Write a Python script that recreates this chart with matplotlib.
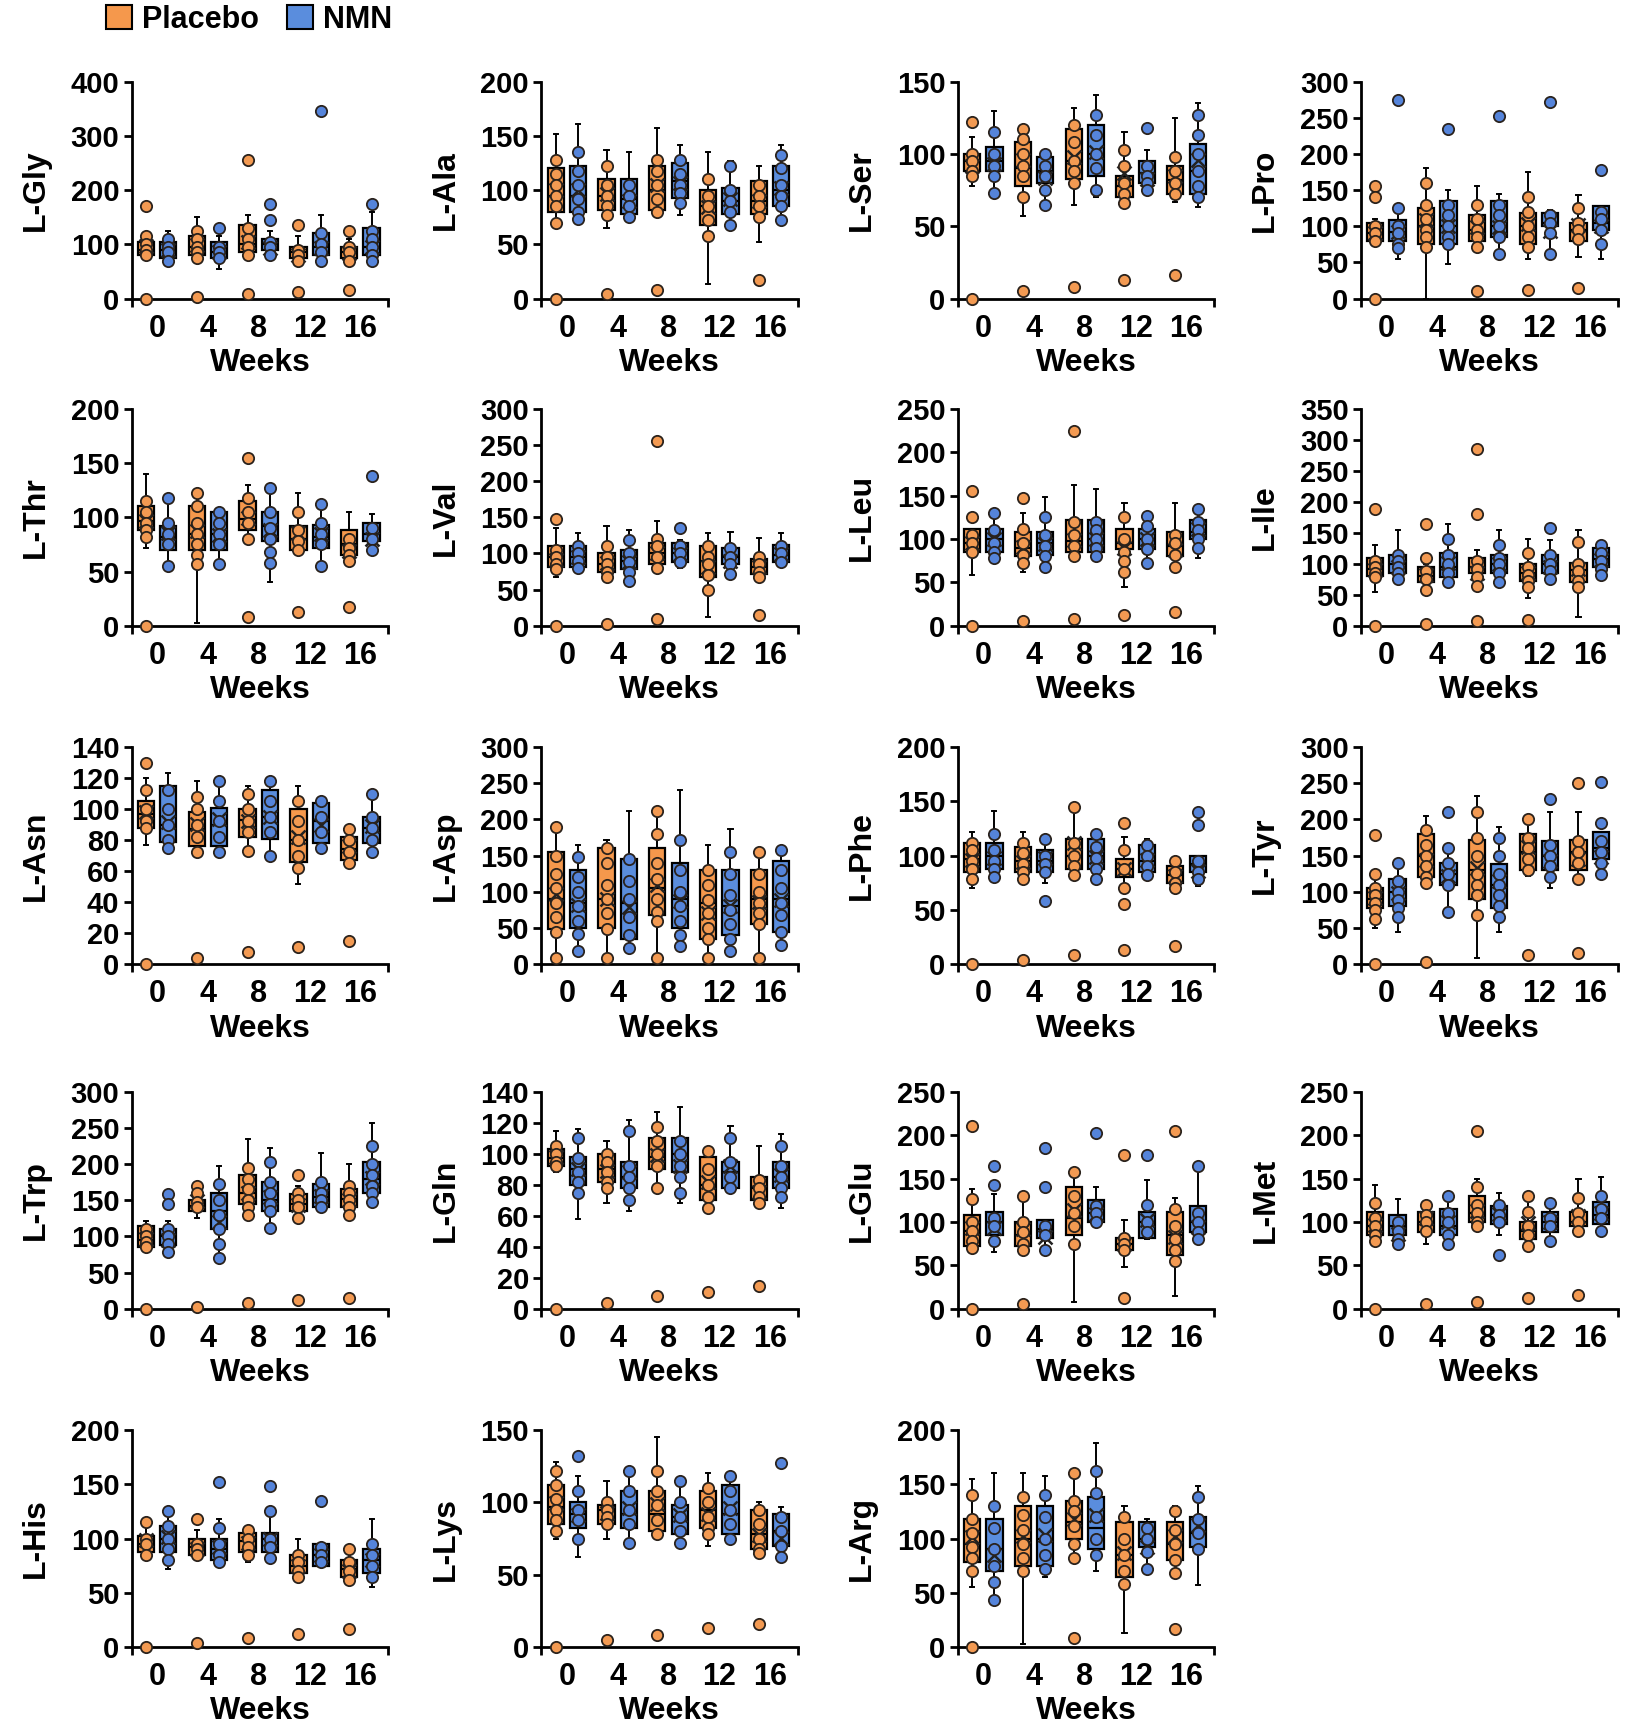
import numpy as np
import matplotlib
matplotlib.use("Agg")
import matplotlib.pyplot as plt
from matplotlib.patches import Patch
from matplotlib import font_manager

names_avail = {f.name for f in font_manager.fontManager.ttflist}
FAM = [f for f in ["Liberation Sans Narrow", "Liberation Sans", "DejaVu Sans"] if f in names_avail]
plt.rcParams['font.family'] = FAM
plt.rcParams['font.weight'] = 'bold'

WEEKS = ["0", "4", "8", "12", "16"]
GROUPS = ["Placebo", "NMN"]

# each box row: [whisker low, q1, median, q3, whisker high]
GLY_PL_BOX = [[75, 80, 90, 105, 115], [70, 80, 95, 115, 150], [75, 85, 100, 135, 155], [70, 75, 85, 95, 115], [65, 75, 85, 95, 110]]
GLY_NM_BOX = [[65, 75, 90, 105, 125], [55, 75, 85, 105, 115], [80, 90, 100, 110, 125], [65, 80, 95, 120, 155], [70, 80, 95, 130, 160]]
GLY_PL_PTS = [[170, 115, 100, 90, 80, 0], [125, 110, 95, 85, 75, 3], [255, 130, 110, 95, 80, 8], [135, 90, 80, 70, 12], [125, 95, 85, 70, 16]]
GLY_NM_PTS = [[110, 95, 85, 70], [130, 95, 85, 75], [175, 145, 105, 95, 80], [345, 120, 100, 85, 70], [175, 125, 110, 95, 80, 70]]

ALA_PL_BOX = [[70, 80, 95, 120, 152], [65, 82, 95, 110, 137], [75, 82, 100, 122, 157], [13, 68, 85, 100, 135], [52, 78, 90, 108, 122]]
ALA_NM_BOX = [[70, 80, 95, 122, 161], [72, 78, 92, 110, 135], [77, 93, 108, 125, 142], [65, 78, 90, 102, 127], [70, 85, 100, 122, 142]]
ALA_PL_PTS = [[128, 115, 105, 95, 85, 70, 0], [122, 105, 95, 85, 77, 4], [128, 118, 105, 92, 80, 8], [110, 95, 85, 72, 58], [105, 95, 85, 75, 17]]
ALA_NM_PTS = [[135, 118, 105, 92, 80, 73], [105, 95, 85, 75], [128, 115, 105, 97, 88], [122, 100, 90, 80, 68], [132, 120, 105, 95, 85, 72]]

SER_PL_BOX = [[78, 88, 95, 100, 112], [57, 78, 90, 108, 120], [65, 83, 95, 117, 132], [68, 70, 78, 85, 115], [67, 72, 82, 92, 125]]
SER_NM_BOX = [[72, 88, 95, 105, 130], [65, 80, 88, 98, 103], [70, 85, 100, 120, 141], [75, 80, 87, 95, 103], [63, 72, 88, 107, 135]]
SER_PL_PTS = [[122, 100, 95, 88, 85, 0], [117, 110, 100, 92, 85, 70, 5], [120, 108, 95, 88, 80, 8], [103, 92, 80, 72, 66, 13], [98, 88, 80, 72, 16]]
SER_NM_PTS = [[115, 100, 92, 85, 73], [100, 92, 85, 75, 65], [127, 113, 100, 90, 75], [118, 92, 85, 80, 75], [127, 113, 100, 88, 78, 70]]

PRO_PL_BOX = [[75, 80, 90, 105, 110], [0, 75, 100, 125, 180], [70, 80, 95, 115, 155], [55, 75, 100, 118, 175], [58, 80, 95, 105, 143]]
PRO_NM_BOX = [[55, 80, 92, 108, 125], [48, 75, 100, 135, 150], [55, 85, 100, 135, 145], [60, 100, 105, 118, 122], [55, 95, 105, 128, 128]]
PRO_PL_PTS = [[155, 140, 100, 90, 80, 0], [160, 130, 110, 95, 85, 72], [130, 110, 95, 85, 72, 10], [140, 120, 100, 85, 72, 12], [125, 105, 95, 82, 15]]
PRO_NM_PTS = [[275, 125, 100, 90, 75, 70], [235, 130, 115, 100, 85, 75], [252, 130, 115, 100, 85, 62], [272, 115, 105, 90, 62], [178, 120, 110, 95, 75]]

THR_PL_BOX = [[72, 88, 97, 110, 140], [3, 70, 85, 110, 122], [75, 88, 98, 115, 130], [65, 70, 80, 92, 122], [58, 65, 75, 88, 105]]
THR_NM_BOX = [[53, 70, 82, 92, 118], [55, 70, 85, 105, 108], [40, 78, 92, 105, 127], [55, 72, 82, 93, 112], [65, 78, 85, 95, 103]]
THR_PL_PTS = [[115, 105, 95, 88, 82, 0], [122, 110, 95, 85, 75, 65, 57], [155, 118, 105, 95, 80, 8], [105, 88, 78, 70, 13], [80, 72, 65, 60, 17]]
THR_NM_PTS = [[118, 95, 85, 75, 55], [105, 95, 85, 75, 57], [127, 105, 90, 80, 68, 58], [112, 95, 85, 75, 55], [138, 90, 80, 70]]

VAL_PL_BOX = [[68, 82, 95, 110, 135], [65, 75, 85, 100, 138], [75, 85, 100, 115, 145], [12, 68, 90, 110, 128], [65, 72, 82, 92, 122]]
VAL_NM_BOX = [[75, 82, 95, 110, 128], [60, 78, 90, 105, 132], [80, 88, 100, 115, 118], [70, 85, 95, 108, 130], [82, 88, 98, 112, 128]]
VAL_PL_PTS = [[148, 105, 95, 85, 78, 0], [110, 95, 85, 75, 68, 3], [255, 120, 110, 95, 80, 10], [110, 95, 85, 70, 50], [95, 85, 75, 68, 15]]
VAL_NM_PTS = [[110, 100, 90, 80], [118, 100, 88, 75, 62], [135, 110, 100, 88], [108, 95, 85, 72], [110, 100, 88]]

LEU_PL_BOX = [[58, 85, 95, 112, 112], [62, 80, 90, 108, 130], [75, 85, 98, 122, 162], [45, 88, 95, 112, 142], [65, 80, 92, 108, 142]]
LEU_NM_BOX = [[75, 85, 100, 112, 130], [62, 82, 95, 108, 148], [75, 85, 100, 122, 158], [72, 88, 100, 112, 128], [78, 100, 108, 122, 135]]
LEU_PL_PTS = [[155, 125, 105, 95, 85, 0], [147, 112, 95, 82, 72, 5], [225, 120, 105, 92, 80, 8], [125, 100, 85, 75, 62, 13], [105, 95, 82, 68, 16]]
LEU_NM_PTS = [[130, 110, 95, 85, 78], [125, 105, 92, 80, 68], [120, 110, 100, 90, 80], [127, 115, 100, 88, 72], [135, 120, 110, 100, 90]]

ILE_PL_BOX = [[55, 80, 92, 110, 130], [60, 70, 80, 95, 100], [65, 85, 95, 110, 122], [45, 72, 85, 100, 140], [15, 70, 90, 102, 155]]
ILE_NM_BOX = [[72, 85, 100, 115, 155], [62, 78, 95, 118, 165], [65, 85, 100, 115, 155], [70, 85, 100, 115, 138], [80, 95, 108, 125, 130]]
ILE_PL_PTS = [[188, 105, 95, 85, 78, 0], [165, 110, 88, 75, 58, 3], [285, 180, 105, 92, 78, 65, 7], [118, 95, 82, 72, 62, 10], [135, 100, 88, 72, 62]]
ILE_NM_PTS = [[115, 105, 95, 85, 75], [140, 115, 100, 85, 70], [130, 110, 100, 85, 70], [158, 115, 100, 88, 75], [130, 118, 105, 92, 82]]

ASN_PL_BOX = [[77, 88, 97, 105, 120], [70, 76, 87, 98, 118], [72, 82, 93, 100, 115], [52, 66, 80, 100, 115], [62, 67, 74, 82, 90]]
ASN_NM_BOX = [[72, 79, 90, 115, 123], [70, 76, 90, 101, 118], [68, 81, 95, 112, 120], [72, 78, 92, 104, 107], [72, 78, 88, 95, 110]]
ASN_PL_PTS = [[130, 112, 100, 92, 88, 0], [108, 100, 90, 82, 72, 4], [110, 100, 92, 85, 73, 8], [105, 92, 80, 70, 62, 11], [87, 80, 72, 65, 15]]
ASN_NM_PTS = [[112, 100, 90, 80, 75], [118, 105, 92, 82, 72], [118, 105, 95, 85, 70], [105, 95, 85, 75], [110, 95, 88, 80, 72]]

ASP_PL_BOX = [[8, 48, 90, 155, 190], [8, 50, 90, 160, 172], [8, 68, 105, 160, 212], [8, 35, 85, 130, 165], [8, 55, 90, 130, 160]]
ASP_NM_BOX = [[18, 50, 85, 130, 165], [20, 35, 85, 145, 212], [25, 50, 90, 140, 240], [18, 40, 80, 130, 187], [25, 45, 90, 142, 160]]
ASP_PL_PTS = [[190, 150, 125, 105, 85, 65, 45, 8], [160, 140, 110, 90, 70, 48, 8], [212, 180, 140, 118, 90, 72, 60, 8], [130, 110, 88, 70, 50, 35, 8], [155, 125, 100, 85, 70, 55, 8]]
ASP_NM_PTS = [[148, 120, 100, 80, 60, 42, 18], [145, 115, 90, 65, 40, 22], [172, 130, 100, 80, 60, 40, 25], [155, 125, 95, 75, 55, 35, 18], [158, 130, 105, 85, 68, 45, 27]]

PHE_PL_BOX = [[70, 85, 97, 112, 122], [75, 85, 95, 108, 122], [85, 88, 100, 115, 145], [70, 80, 88, 97, 117], [70, 75, 82, 90, 98]]
PHE_NM_BOX = [[80, 88, 100, 112, 141], [75, 85, 95, 105, 115], [78, 88, 100, 115, 120], [80, 85, 95, 110, 115], [72, 85, 92, 100, 100]]
PHE_PL_PTS = [[112, 105, 95, 88, 78, 0], [112, 102, 92, 85, 78, 4], [145, 112, 100, 90, 82, 8], [130, 105, 88, 70, 55, 13], [95, 85, 75, 70, 17]]
PHE_NM_PTS = [[120, 105, 95, 88, 80], [115, 100, 92, 85, 58], [120, 108, 98, 88, 78], [110, 100, 90, 82], [140, 128, 95, 85, 78]]

TYR_PL_BOX = [[50, 78, 90, 105, 125], [110, 120, 150, 180, 205], [8, 90, 130, 172, 232], [122, 130, 155, 180, 200], [118, 130, 155, 172, 210]]
TYR_NM_BOX = [[45, 80, 100, 118, 140], [72, 110, 125, 140, 162], [45, 78, 110, 138, 190], [105, 130, 150, 170, 210], [125, 145, 160, 182, 182]]
TYR_PL_PTS = [[178, 125, 105, 95, 85, 75, 62, 0], [185, 165, 150, 135, 120, 112, 3], [210, 175, 150, 125, 110, 95, 68], [200, 175, 160, 145, 130, 12], [250, 170, 155, 140, 118, 16]]
TYR_NM_PTS = [[140, 115, 100, 88, 78, 65], [210, 160, 140, 125, 110, 72], [175, 150, 125, 110, 95, 80, 65], [228, 165, 150, 135, 120], [252, 195, 170, 155, 140, 125]]

TRP_PL_BOX = [[78, 85, 95, 115, 122], [125, 135, 142, 150, 168], [130, 145, 160, 185, 235], [125, 135, 145, 158, 170], [130, 140, 152, 165, 200]]
TRP_NM_BOX = [[75, 88, 100, 110, 122], [70, 110, 135, 160, 197], [110, 135, 150, 175, 222], [135, 140, 155, 172, 215], [145, 160, 180, 203, 257]]
TRP_PL_PTS = [[110, 100, 92, 85, 0], [170, 160, 148, 140, 3], [195, 180, 165, 150, 140, 130, 8], [185, 160, 150, 140, 125, 12], [170, 160, 150, 140, 130, 15]]
TRP_NM_PTS = [[158, 145, 110, 100, 90, 78], [172, 150, 130, 110, 90, 70], [203, 175, 160, 145, 135, 112], [175, 160, 150, 140], [225, 200, 185, 170, 160, 148]]

GLN_PL_BOX = [[88, 92, 97, 103, 115], [68, 82, 90, 100, 108], [78, 90, 98, 110, 127], [65, 70, 80, 98, 102], [65, 70, 78, 85, 105]]
GLN_NM_BOX = [[58, 80, 90, 98, 116], [63, 78, 85, 95, 122], [68, 88, 100, 110, 130], [75, 78, 88, 95, 118], [65, 78, 85, 95, 113]]
GLN_PL_PTS = [[105, 100, 95, 92, 0], [100, 95, 88, 82, 78, 4], [117, 108, 100, 92, 78, 8], [102, 90, 80, 72, 65, 11], [83, 78, 72, 68, 15]]
GLN_NM_PTS = [[110, 97, 88, 82, 75], [115, 92, 85, 78, 70], [108, 100, 92, 85, 75], [110, 95, 85, 78], [105, 92, 85, 78, 72]]

GLU_PL_BOX = [[68, 72, 90, 108, 138], [65, 72, 85, 100, 135], [8, 85, 105, 140, 160], [48, 68, 75, 82, 102], [15, 62, 85, 112, 128]]
GLU_NM_BOX = [[65, 85, 100, 112, 132], [65, 82, 92, 102, 102], [95, 100, 110, 125, 140], [80, 82, 100, 112, 148], [80, 88, 100, 118, 160]]
GLU_PL_PTS = [[210, 127, 100, 90, 78, 70, 0], [130, 100, 88, 75, 68, 5], [158, 130, 110, 95, 75], [177, 82, 75, 68, 12], [205, 115, 95, 80, 68, 55]]
GLU_NM_PTS = [[165, 142, 105, 95, 78], [185, 140, 95, 85, 68], [203, 118, 110, 100], [177, 120, 100, 88], [165, 110, 100, 88, 80]]

MET_PL_BOX = [[75, 85, 95, 112, 142], [75, 88, 100, 112, 120], [92, 100, 110, 130, 150], [68, 80, 90, 100, 130], [88, 95, 100, 112, 150]]
MET_NM_BOX = [[72, 85, 95, 108, 126], [70, 85, 95, 115, 130], [85, 98, 108, 118, 133], [78, 88, 100, 112, 122], [90, 98, 108, 123, 152]]
MET_PL_PTS = [[122, 105, 95, 85, 78, 0], [120, 108, 100, 90, 5], [205, 140, 120, 110, 100, 95, 8], [130, 112, 95, 85, 72, 12], [128, 110, 100, 90, 16]]
MET_NM_PTS = [[100, 90, 80, 75], [130, 110, 100, 85, 75], [120, 108, 100, 62], [122, 105, 95, 78], [130, 115, 105, 90]]

HIS_PL_BOX = [[85, 88, 95, 102, 118], [85, 85, 92, 100, 108], [78, 88, 98, 105, 110], [65, 68, 75, 85, 100], [60, 65, 72, 80, 88]]
HIS_NM_BOX = [[72, 88, 100, 112, 125], [78, 80, 90, 100, 118], [82, 88, 100, 105, 125], [75, 75, 85, 95, 95], [55, 68, 80, 90, 118]]
HIS_PL_PTS = [[115, 100, 95, 85, 0], [118, 95, 90, 85, 4], [108, 100, 92, 85, 8], [85, 78, 70, 65, 12], [90, 78, 70, 62, 17]]
HIS_NM_PTS = [[125, 112, 100, 90, 80], [152, 110, 95, 85, 78], [148, 125, 100, 92, 82], [135, 92, 85, 78], [95, 85, 75, 65]]

LYS_PL_BOX = [[75, 85, 97, 112, 128], [75, 85, 95, 98, 115], [75, 80, 92, 108, 145], [70, 82, 95, 108, 120], [65, 68, 78, 95, 100]]
LYS_NM_BOX = [[62, 82, 92, 100, 118], [72, 82, 92, 108, 122], [72, 78, 90, 98, 115], [72, 78, 92, 112, 118], [60, 70, 80, 92, 97]]
LYS_PL_PTS = [[122, 112, 102, 95, 88, 80, 0], [100, 95, 90, 85, 5], [122, 108, 98, 88, 78, 8], [110, 100, 90, 82, 78, 13], [95, 85, 75, 68, 65, 16]]
LYS_NM_PTS = [[132, 108, 95, 88, 75], [122, 108, 95, 85, 72], [115, 100, 90, 80, 72], [118, 108, 95, 85, 75], [127, 90, 80, 70, 62]]

ARG_PL_BOX = [[55, 78, 95, 118, 155], [3, 75, 100, 130, 160], [80, 100, 115, 135, 160], [13, 65, 85, 115, 130], [78, 80, 95, 115, 130]]
ARG_NM_BOX = [[43, 70, 90, 118, 160], [65, 75, 100, 130, 158], [70, 90, 110, 138, 188], [70, 92, 100, 115, 118], [57, 92, 105, 120, 148]]
ARG_PL_PTS = [[140, 118, 105, 92, 82, 70, 0], [138, 122, 108, 95, 82, 70], [160, 135, 125, 112, 95, 82, 8], [120, 100, 85, 70, 58], [125, 108, 95, 80, 68, 17]]
ARG_NM_PTS = [[130, 110, 90, 75, 60, 43], [140, 120, 100, 85, 72], [162, 142, 120, 100, 85], [110, 100, 88, 72], [138, 118, 105, 90]]

LABELS = ["L-Gly", "L-Ala", "L-Ser", "L-Pro", "L-Thr", "L-Val", "L-Leu", "L-Ile",
          "L-Asn", "L-Asp", "L-Phe", "L-Tyr", "L-Trp", "L-Gln", "L-Glu", "L-Met",
          "L-His", "L-Lys", "L-Arg"]
YMAX = [400, 200, 150, 300, 200, 300, 250, 350, 140, 300, 200, 300, 300, 140, 250, 250, 200, 150, 200]
YSTEP = [100, 50, 50, 50, 50, 50, 50, 50, 20, 50, 50, 50, 50, 20, 50, 50, 50, 50, 50]

PANELS = [
    (GLY_PL_BOX, GLY_NM_BOX, GLY_PL_PTS, GLY_NM_PTS),
    (ALA_PL_BOX, ALA_NM_BOX, ALA_PL_PTS, ALA_NM_PTS),
    (SER_PL_BOX, SER_NM_BOX, SER_PL_PTS, SER_NM_PTS),
    (PRO_PL_BOX, PRO_NM_BOX, PRO_PL_PTS, PRO_NM_PTS),
    (THR_PL_BOX, THR_NM_BOX, THR_PL_PTS, THR_NM_PTS),
    (VAL_PL_BOX, VAL_NM_BOX, VAL_PL_PTS, VAL_NM_PTS),
    (LEU_PL_BOX, LEU_NM_BOX, LEU_PL_PTS, LEU_NM_PTS),
    (ILE_PL_BOX, ILE_NM_BOX, ILE_PL_PTS, ILE_NM_PTS),
    (ASN_PL_BOX, ASN_NM_BOX, ASN_PL_PTS, ASN_NM_PTS),
    (ASP_PL_BOX, ASP_NM_BOX, ASP_PL_PTS, ASP_NM_PTS),
    (PHE_PL_BOX, PHE_NM_BOX, PHE_PL_PTS, PHE_NM_PTS),
    (TYR_PL_BOX, TYR_NM_BOX, TYR_PL_PTS, TYR_NM_PTS),
    (TRP_PL_BOX, TRP_NM_BOX, TRP_PL_PTS, TRP_NM_PTS),
    (GLN_PL_BOX, GLN_NM_BOX, GLN_PL_PTS, GLN_NM_PTS),
    (GLU_PL_BOX, GLU_NM_BOX, GLU_PL_PTS, GLU_NM_PTS),
    (MET_PL_BOX, MET_NM_BOX, MET_PL_PTS, MET_NM_PTS),
    (HIS_PL_BOX, HIS_NM_BOX, HIS_PL_PTS, HIS_NM_PTS),
    (LYS_PL_BOX, LYS_NM_BOX, LYS_PL_PTS, LYS_NM_PTS),
    (ARG_PL_BOX, ARG_NM_BOX, ARG_PL_PTS, ARG_NM_PTS),
]

BOX_COLORS = ["#F5984C", "#5A8DDD"]
DOT_COLORS = ["#F39A52", "#5584DA"]
DOT_EDGE = "#2A221C"

W, H = 1629, 1725
fig = plt.figure(figsize=(W / 100, H / 100), dpi=100)

COL_LEFT = [0.0809, 0.3324, 0.588, 0.8355]
ROW_BOTTOM = [0.8269, 0.6372, 0.4411, 0.2413, 0.0452]
AX_W, AX_H = 0.1575, 0.1258

OFFS = [-0.22, 0.22]
BW = 0.32


def make_stats(rows, pts):
    stats = []
    for r, p in zip(rows, pts):
        inside = [v for v in p if r[0] <= v <= r[4]]
        mean = float(np.mean(inside)) if inside else r[2]
        stats.append(dict(whislo=r[0], q1=r[1], med=r[2], q3=r[3], whishi=r[4], mean=mean, fliers=[]))
    return stats


for k, (label, ymax, ystep, data) in enumerate(zip(LABELS, YMAX, YSTEP, PANELS)):
    r, c = divmod(k, 4)
    ax = fig.add_axes([COL_LEFT[c], ROW_BOTTOM[r], AX_W, AX_H])
    x = np.arange(len(WEEKS))
    for g in range(2):
        boxes, pts = data[g], data[g + 2]
        pos = x + OFFS[g]
        ax.bxp(make_stats(boxes, pts), positions=pos, widths=BW, patch_artist=True,
               showmeans=True, showfliers=False, capwidths=0.08,
               boxprops=dict(facecolor=BOX_COLORS[g], edgecolor="black", linewidth=1.6),
               medianprops=dict(color="black", linewidth=1.6),
               whiskerprops=dict(color="black", linewidth=1.4),
               capprops=dict(color="black", linewidth=1.4),
               meanprops=dict(marker="x", markeredgecolor="#222222", markersize=10, markeredgewidth=1.8),
               zorder=2)
        for xi, p in zip(pos, pts):
            ax.scatter(np.full(len(p), xi), p, s=66, color=DOT_COLORS[g], edgecolor=DOT_EDGE,
                       linewidth=1.3, zorder=4, clip_on=False)
    ax.set_xlim(-0.5, 4.55)
    ax.set_ylim(0, ymax)
    ax.set_yticks(np.arange(0, ymax + 1, ystep))
    ax.set_xticks(x)
    ax.set_xticklabels(WEEKS)
    ax.set_xticks([-0.5, 4.55], minor=True)
    for s in ["top", "right"]:
        ax.spines[s].set_visible(False)
    for s in ["left", "bottom"]:
        ax.spines[s].set_linewidth(2.0)
    ax.tick_params(axis="y", which="major", length=6, width=2, direction="out", labelsize=21, pad=3)
    ax.tick_params(axis="x", which="major", length=0, labelsize=22, pad=11)
    ax.tick_params(axis="x", which="minor", length=6, width=2, direction="out")
    for t in ax.get_xticklabels() + ax.get_yticklabels():
        t.set_fontweight("bold")
    ax.set_xlabel("Weeks", fontsize=23, fontweight="bold", labelpad=3)
    ax.set_ylabel(label, fontsize=23, fontweight="bold", labelpad=14)
    ax.patch.set_alpha(0)

handles = [Patch(facecolor=BOX_COLORS[0], edgecolor="black", linewidth=1.5),
           Patch(facecolor=BOX_COLORS[1], edgecolor="black", linewidth=1.5)]
fig.legend(handles, GROUPS, loc="upper left", bbox_to_anchor=(0.062, 1.0), ncol=2, frameon=False,
           prop=dict(size=22, weight="bold"), handlelength=0.85, handleheight=0.85,
           handletextpad=0.35, columnspacing=0.9, borderaxespad=0.0, borderpad=0.15)

fig.savefig("out.png", dpi=100)
